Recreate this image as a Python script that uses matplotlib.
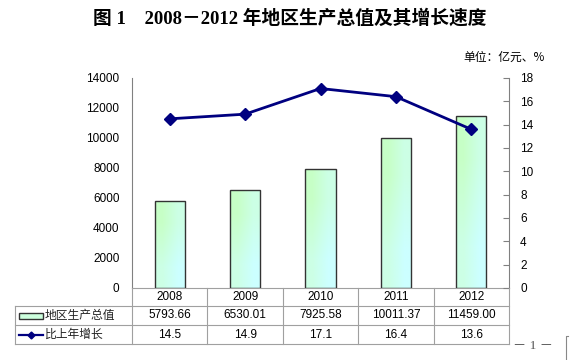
import matplotlib
matplotlib.use("Agg")
import matplotlib.pyplot as plt
import numpy as np
from matplotlib.lines import Line2D
from matplotlib.patches import Rectangle

years = ["2008", "2009", "2010", "2011", "2012"]
gdp = [5793.66, 6530.01, 7925.58, 10011.37, 11459.00]
gdp_labels = ["5793.66", "6530.01", "7925.58", "10011.37", "11459.00"]
growth = [14.5, 14.9, 17.1, 16.4, 13.6]
growth_labels = ["14.5", "14.9", "17.1", "16.4", "13.6"]
left_ticks = [0, 2000, 4000, 6000, 8000, 10000, 12000, 14000]
right_ticks = [0, 2, 4, 6, 8, 10, 12, 14, 16, 18]
row_names = ["地区生产总值", "比上年增长"]
title = "图 1　2008－2012 年地区生产总值及其增长速度"
unit = "单位：亿元、%"

W, H = 572, 360
fig = plt.figure(figsize=(W / 100, H / 100), dpi=100)
sans = ["Liberation Sans", "Noto Sans CJK SC"]
cjk = ["Noto Sans CJK SC", "DejaVu Sans"]

L, R, T, B = 132, 509, 78, 288
ax = fig.add_axes([L / W, 1 - B / H, (R - L) / W, (B - T) / H])
ax2 = ax.twinx()

x = np.arange(len(years))
ax.set_xlim(-0.5, len(years) - 0.5)
ax.set_ylim(0, 14000)
ax2.set_ylim(0, 18)

bars = ax.bar(x, gdp, width=0.4, facecolor="none", edgecolor="#333333", linewidth=1.0, zorder=3)
grad = np.array([[[0.78, 1.0, 0.78], [0.80, 1.0, 0.90]],
                 [[0.80, 1.0, 0.90], [0.80, 1.0, 1.0]]])
for b in bars:
    x0, y0 = b.get_x(), b.get_y()
    w, h = b.get_width(), b.get_height()
    im = ax.imshow(grad, extent=(x0, x0 + w, y0, y0 + h), aspect="auto",
                   interpolation="bilinear", origin="upper", zorder=2)
    im.set_clip_path(b)
ax.set_aspect("auto")
ax.set_xlim(-0.5, len(years) - 0.5)
ax.set_ylim(0, 14000)

ax2.plot(x, growth, color="#000080", linewidth=2.0, marker="D", markersize=6, zorder=5)

ax.set_yticks(left_ticks)
ax.set_yticklabels([str(t) for t in left_ticks], fontsize=8.5, family=sans)
ax2.set_yticks(right_ticks)
ax2.set_yticklabels([str(t) for t in right_ticks], fontsize=8.5, family=sans)
ax.set_xticks([])
for a in (ax, ax2):
    for s in a.spines.values():
        s.set_visible(False)
ax.spines["left"].set_visible(True)
ax.spines["left"].set_color("#808080")
ax2.spines["right"].set_visible(True)
ax2.spines["right"].set_color("#808080")
ax.spines["bottom"].set_visible(True)
ax.spines["bottom"].set_color("#a0a0a0")
ax.tick_params(axis="y", length=0, pad=9)
ax2.tick_params(axis="y", direction="in", length=4, color="#808080", pad=8)

# overlay in pixel coordinates for the data table
ov = fig.add_axes([0, 0, 1, 1])
ov.set_xlim(0, W)
ov.set_ylim(H, 0)
ov.axis("off")
ov.patch.set_alpha(0)

gc = "#a0a0a0"
cw = (R - L) / len(years)
rows_y = [288, 306, 325, 344]
tl = 15
ov.add_line(Line2D([tl, R], [rows_y[1], rows_y[1]], color=gc, lw=0.8))
ov.add_line(Line2D([tl, R], [rows_y[2], rows_y[2]], color=gc, lw=0.8))
ov.add_line(Line2D([tl, R], [rows_y[3], rows_y[3]], color=gc, lw=0.8))
ov.add_line(Line2D([tl, tl], [rows_y[1], rows_y[3]], color=gc, lw=0.8))
for i in range(len(years) + 1):
    xx = L + i * cw
    ov.add_line(Line2D([xx, xx], [rows_y[0], rows_y[3]], color=gc, lw=0.8))

for i in range(len(years)):
    cx = L + (i + 0.5) * cw
    ov.text(cx, (rows_y[0] + rows_y[1]) / 2, years[i], ha="center", va="center", fontsize=8.5, family=sans)
    ov.text(cx, (rows_y[1] + rows_y[2]) / 2, gdp_labels[i], ha="center", va="center", fontsize=8.5, family=sans)
    ov.text(cx, (rows_y[2] + rows_y[3]) / 2, growth_labels[i], ha="center", va="center", fontsize=8.5, family=sans)

# legend keys in table
ym1 = (rows_y[1] + rows_y[2]) / 2
ov.add_patch(Rectangle((19, ym1 - 3), 24, 6, facecolor="#ccffdd", edgecolor="#333333", lw=1.0))
ov.text(45, ym1, row_names[0], ha="left", va="center", fontsize=8.5, family=cjk, color="#222222")
ym2 = (rows_y[2] + rows_y[3]) / 2
ov.add_line(Line2D([19, 43], [ym2, ym2], color="#000080", lw=1.6))
ov.add_line(Line2D([31], [ym2], color="#000080", marker="D", markersize=3.5))
ov.text(45, ym2, row_names[1], ha="left", va="center", fontsize=8.5, family=cjk, color="#222222")

# titles
ov.text(290, 18, title, ha="center", va="center", fontsize=13.5, weight="bold",
        family=["Liberation Serif", "Noto Sans CJK SC"])
ov.text(545, 57, unit, ha="right", va="center", fontsize=8.5, family=cjk)
ov.text(533, 346, "－ 1 －", ha="center", va="center", fontsize=9.5,
        family=["Liberation Serif", "Noto Sans CJK SC"], color="#555555")
ov.add_line(Line2D([568, 566, 566], [336, 336, 360], color="#888888", lw=0.8))

fig.savefig("out.png", dpi=100)
